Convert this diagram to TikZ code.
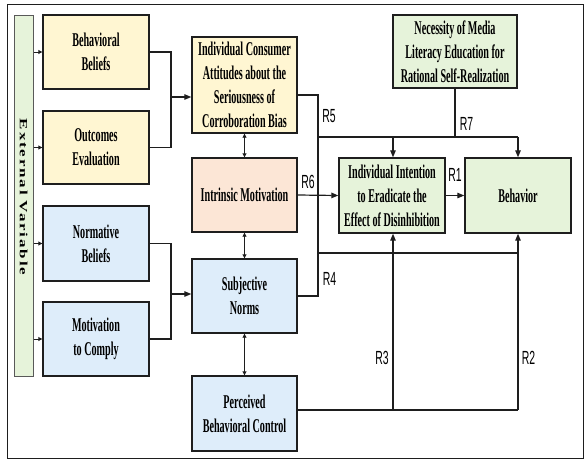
\documentclass[tikz,border=0pt]{standalone}
\usepackage{fontspec}
\usepackage{graphicx}
\usetikzlibrary{arrows.meta}
\newfontfamily\boxfont[FakeStretch=0.52]{Liberation Serif}
\newfontfamily\lblfont[FakeStretch=0.55]{Liberation Sans}
\newfontfamily\extfont[LetterSpace=10.6]{Liberation Serif}
\definecolor{cyel}{HTML}{FFF6D2}
\definecolor{cpink}{HTML}{FCE6D6}
\definecolor{cblue}{HTML}{DEEDFA}
\definecolor{cgreen}{HTML}{E6F3DA}
\definecolor{cline}{HTML}{1E1E1E}
\begin{document}
\begin{tikzpicture}[x=1pt,y=-1pt,
  box/.style={draw=cline,line width=1.4pt,inner sep=0pt,align=center,
    font=\boxfont\bfseries\fontsize{19.5}{24}\selectfont},
  conn/.style={draw=cline,line width=1.2pt},
  arr/.style={conn,-{Triangle[length=7pt,width=5.5pt]}},
  sarr/.style={draw=cline,line width=0.9pt,-{Triangle[length=4pt,width=4pt]}},
  darr/.style={draw=cline,line width=0.9pt,{Triangle[length=4pt,width=4pt]}-{Triangle[length=4pt,width=4pt]}},
  lbl/.style={font=\lblfont\fontsize{19}{20}\selectfont,inner sep=0pt}]
\useasboundingbox (0,0) rectangle (585,461);
\draw[draw=cline,line width=1pt] (7,4) rectangle (583,458);
% bar
\node[draw=gray!70!black,line width=1pt,fill=cgreen,minimum width=19pt,minimum height=361pt,inner sep=0pt] (bar) at (23.5,195.5) {};
\node[rotate=-90,inner sep=0pt] (bartxt) at (23.5,197) {\scalebox{1}[0.65]{\extfont\bfseries\fontsize{17}{17}\selectfont External Variable}};
% left boxes
\node[box,fill=cyel,minimum width=106pt,minimum height=74pt] (bb) at (96,52) {Behavioral\\Beliefs};
\node[box,fill=cyel,minimum width=106pt,minimum height=73pt] (oe) at (96,147.5) {Outcomes\\Evaluation};
\node[box,fill=cblue,minimum width=106pt,minimum height=75pt] (nb) at (96,243.5) {Normative\\Beliefs};
\node[box,fill=cblue,minimum width=106pt,minimum height=74pt] (mc) at (96,339) {Motivation\\to Comply};
% middle column
\node[box,fill=cyel,minimum width=105pt,minimum height=96pt] (ica) at (244.5,85) {Individual Consumer\\Attitudes about the\\Seriousness of\\Corroboration Bias};
\node[box,fill=cpink,minimum width=105pt,minimum height=74pt] (im) at (244.5,195) {Intrinsic Motivation};
\node[box,fill=cblue,minimum width=105pt,minimum height=74pt] (sn) at (244.5,296) {Subjective\\Norms};
\node[box,fill=cblue,minimum width=105pt,minimum height=75pt] (pbc) at (244.5,413.5) {Perceived\\Behavioral Control};
% right
\node[box,fill=cgreen,minimum width=124pt,minimum height=73pt] (nec) at (455,51.5) {Necessity of Media\\Literacy Education for\\Rational Self-Realization};
\node[box,fill=cgreen,minimum width=106pt,minimum height=75pt] (int) at (392,195.5) {Individual Intention\\to Eradicate the\\Effect of Disinhibition};
\node[box,fill=cgreen,minimum width=106pt,minimum height=75pt] (beh) at (518,195.5) {Behavior};
% bar arrows
\draw[sarr] (bar.east |- bb.west) -- (bb.west);
\draw[sarr] (bar.east |- oe.west) -- (oe.west);
\draw[sarr] (bar.east |- nb.west) -- (nb.west);
\draw[sarr] (bar.east |- mc.west) -- (mc.west);
% merges into ICA and SN
\coordinate (j1) at (171,97);
\coordinate (j2) at (171,294);
\draw[conn] (bb.east) -- (bb.east -| j1) -- (oe.east -| j1) -- (oe.east);
\draw[arr] (j1) -- (ica.west |- j1);
\draw[conn] (nb.east) -- (nb.east -| j2) -- (mc.east -| j2) -- (mc.east);
\draw[arr] (j2) -- (sn.west |- j2);
% double arrows
\draw[darr] (ica.south) -- (im.north);
\draw[darr] (im.south) -- (sn.north);
\draw[darr] (sn.south) -- (pbc.north);
% R5 / R4 trunk
\coordinate (t1) at (318,95);
\coordinate (t2) at (318,296);
\coordinate (h1) at (318,137);
\coordinate (h2) at (318,253);
\coordinate (e1) at (518,137);
\coordinate (e2) at (518,253);
\coordinate (m1) at (393,137);
\draw[conn] (ica.east |- t1) -- (t1) -- (t2) -- (sn.east |- t2);
\draw[conn] (h1) -- (e1);
\draw[conn] (h2) -- (e2);
\draw[conn] (nec.south) -- (nec.south |- h1);
\draw[arr] (m1) -- (int.north -| m1);
\draw[arr] (e1) -- (beh.north);
% R6, R1
\draw[arr] (im.east) -- (int.west);
\draw[arr] (int.east) -- (beh.west);
% PBC lines
\coordinate (p1) at (393,410);
\coordinate (p2) at (518,410);
\draw[conn] (pbc.east |- p1) -- (p2);
\draw[arr] (p1) -- (int.south -| p1);
\draw[arr] (p2) -- (beh.south);
% labels
\node[lbl] (r5) at (329,116) {R5};
\node[lbl] (r6) at (308,182) {R6};
\node[lbl] (r4) at (329.5,279) {R4};
\node[lbl] (r7) at (466.5,124) {R7};
\node[lbl] (r1) at (455,175) {R1};
\node[lbl] (r3) at (382,358) {R3};
\node[lbl] (r2) at (528.5,358) {R2};
\end{tikzpicture}
\end{document}
